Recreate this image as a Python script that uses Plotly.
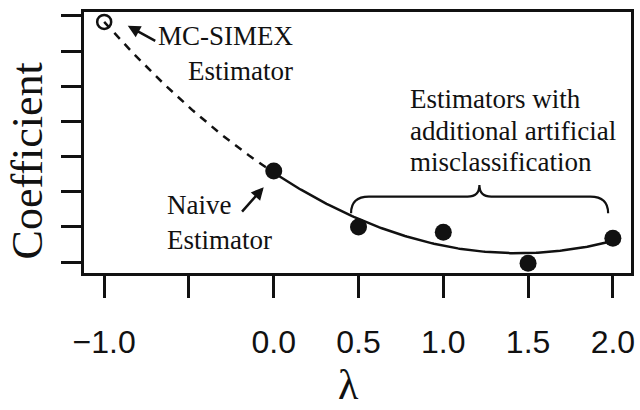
import numpy as np
import plotly.graph_objects as go

# Naive estimate (lambda = 0) and estimates with extra artificial misclassification
lam = [0.0, 0.5, 1.0, 1.5, 2.0]
coef = [0.259, 0.100, 0.085, -0.003, 0.068]

# Axis ticks
xtick_vals = [-1.0, -0.5, 0.0, 0.5, 1.0, 1.5, 2.0]
xtick_text = ["\u22121.0", "", "0.0", "0.5", "1.0", "1.5", "2.0"]
ytick_vals = [0.0, 0.1, 0.2, 0.3, 0.4, 0.5, 0.6, 0.7]

# Quadratic extrapolant fitted to the simulated estimates
fit = np.poly1d(np.polyfit(lam, coef, 2))
simex_lam = -1.0
simex_coef = float(fit(simex_lam))

lam_solid = np.linspace(min(lam), max(lam), 200)
lam_dash = np.linspace(simex_lam, min(lam), 100)

SERIF = "Liberation Serif"
SANS = "Liberation Sans"
INK = "#111111"


def serif(size):
    return dict(family=SERIF, size=size, color=INK)


fig = go.Figure()

fig.add_trace(go.Scatter(x=lam_dash, y=fit(lam_dash), mode="lines",
                         line=dict(color=INK, width=2.5, dash="8px,7px"),
                         hoverinfo="skip", showlegend=False))
fig.add_trace(go.Scatter(x=lam_solid, y=fit(lam_solid), mode="lines",
                         line=dict(color=INK, width=2.5),
                         hoverinfo="skip", showlegend=False))
fig.add_trace(go.Scatter(x=lam, y=coef, mode="markers",
                         marker=dict(symbol="circle", size=17, color=INK),
                         showlegend=False))
fig.add_trace(go.Scatter(x=[simex_lam], y=[simex_coef], mode="markers",
                         marker=dict(symbol="circle-open", size=14, color=INK,
                                     line=dict(width=2.5)),
                         showlegend=False))

# Curly brace over the estimates with lambda > 0
bx0, bx1, bxm = 0.456, 1.972, 1.213
by_end, by_base, by_tip = 0.139, 0.186, 0.219
dx_end, dx_tip = 0.105, 0.07
brace = (f"M {bx0},{by_end} Q {bx0},{by_base} {bx0 + dx_end},{by_base} "
         f"L {bxm - dx_tip},{by_base} Q {bxm},{by_base} {bxm},{by_tip} "
         f"Q {bxm},{by_base} {bxm + dx_tip},{by_base} "
         f"L {bx1 - dx_end},{by_base} Q {bx1},{by_base} {bx1},{by_end}")
fig.add_shape(type="path", path=brace, xref="x", yref="y",
              line=dict(color=INK, width=2.2))

annotations = [
    # text labels
    dict(x=0.13, y=0.593, xref="x", yref="y", text="MC-SIMEX<br>Estimator",
         showarrow=False, xanchor="right", yanchor="middle", align="right",
         font=serif(27)),
    dict(x=-0.644, y=0.112, xref="x", yref="y", text="Naive<br>Estimator",
         showarrow=False, xanchor="left", yanchor="middle", align="left",
         font=serif(27)),
]
# brace label, one line per annotation for tighter leading
for line_text, y_line in [("Estimators with", 0.463),
                          ("additional artificial", 0.372),
                          ("misclassification", 0.284)]:
    annotations.append(dict(x=0.790, y=y_line, xref="x", yref="y", text=line_text,
                            showarrow=False, xanchor="left", yanchor="middle",
                            font=serif(27)))
annotations += [
    # arrows
    dict(x=-0.861, y=0.672, xref="x", yref="y", text="", showarrow=True,
         ax=29, ay=16, arrowhead=2, arrowsize=1, arrowwidth=2.5, arrowcolor=INK),
    dict(x=-0.059, y=0.213, xref="x", yref="y", text="", showarrow=True,
         ax=-23, ay=26, arrowhead=2, arrowsize=1, arrowwidth=2.5, arrowcolor=INK),
    # axis titles
    dict(x=-0.1034, y=0.429, xref="paper", yref="paper", text="Coefficient",
         textangle=-90, showarrow=False, xanchor="center", yanchor="middle",
         font=serif(44)),
    dict(x=0.4828, y=-0.524, xref="paper", yref="paper", text="λ",
         showarrow=False, xanchor="center", yanchor="bottom",
         font=serif(42)),
]

fig.update_layout(
    width=640, height=410,
    margin=dict(l=84, r=5, t=12, b=137),
    paper_bgcolor="white", plot_bgcolor="white",
    annotations=annotations,
    xaxis=dict(range=[-1.119, 2.107], tickvals=xtick_vals, ticktext=xtick_text,
               ticks="outside", ticklen=22, tickwidth=3, tickcolor=INK,
               ticklabelstandoff=17,
               showline=True, linewidth=3, linecolor=INK, mirror=True,
               showgrid=False, zeroline=False,
               tickfont=dict(family=SANS, size=32, color=INK)),
    yaxis=dict(range=[-0.031, 0.711], tickvals=ytick_vals,
               ticks="outside", ticklen=20, tickwidth=3, tickcolor=INK,
               showticklabels=False,
               showline=True, linewidth=3, linecolor=INK, mirror=True,
               showgrid=False, zeroline=False),
)

fig.write_html("out.html")
